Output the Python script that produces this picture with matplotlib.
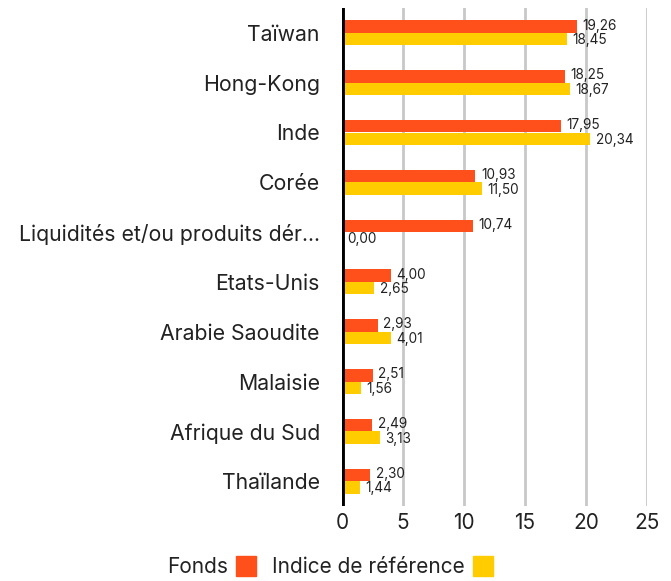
import matplotlib.pyplot as plt
import matplotlib.patches as mpatches
import numpy as np

pays = ["Taïwan", "Hong-Kong", "Inde", "Corée", "Liquidités et/ou produits dér...",
        "Etats-Unis", "Arabie Saoudite", "Malaisie", "Afrique du Sud", "Thaïlande"]
fonds = [19.26, 18.25, 17.95, 10.93, 10.74, 4.00, 2.93, 2.51, 2.49, 2.30]
indice = [18.45, 18.67, 20.34, 11.50, 0.00, 2.65, 4.01, 1.56, 3.13, 1.44]
xticks = [0, 5, 10, 15, 20, 25]

orange = "#FF4F1A"
jaune = "#FFCC00"

plt.rcParams['font.family'] = ['Inter', 'DejaVu Sans']

fig = plt.figure(figsize=(6.71, 5.81), dpi=100)
ax = fig.add_axes([342 / 671, 75 / 581, 305 / 671, 498 / 581])

y = np.arange(len(pays))
h = 0.25
ax.barh(y - h / 2, fonds, height=h, color=orange, zorder=3)
ax.barh(y + h / 2, indice, height=h, color=jaune, zorder=3)

def fmt(v):
    return ("%.2f" % v).replace(".", ",")

for i in range(len(pays)):
    ax.text(fonds[i] + 0.45, y[i] - h / 2 - 0.02, fmt(fonds[i]), va="center", ha="left", fontsize=9.8, color="#222222", zorder=4)
    ax.text(indice[i] + 0.45, y[i] + h / 2 + 0.02, fmt(indice[i]), va="center", ha="left", fontsize=9.8, color="#222222", zorder=4)

ax.set_ylim(len(pays) - 0.5, -0.5)
ax.set_xlim(0, 25)
ax.set_yticks(y)
ax.set_yticklabels(pays, fontsize=15.3, color="#222222")
ax.set_xticks(xticks)
ax.set_xticklabels([str(t) for t in xticks], fontsize=15, color="#222222")
ax.tick_params(axis="y", length=0, pad=16)
ax.tick_params(axis="x", length=0, pad=5)
ax.grid(axis="x", color="#c8c8c8", linewidth=2, zorder=1)
for s in ax.spines.values():
    s.set_visible(False)
ax.axvline(0, color="black", linewidth=3.5, zorder=5)

# legende en bas
fig.text(228 / 671, 14 / 581, "Fonds", ha="right", va="center", fontsize=15, color="#222222")
fig.patches.append(mpatches.Rectangle((236 / 671, 5 / 581), 20 / 671, 20 / 581, color=orange, transform=fig.transFigure))
fig.text(465 / 671, 14 / 581, "Indice de référence", ha="right", va="center", fontsize=15, color="#222222")
fig.patches.append(mpatches.Rectangle((473 / 671, 5 / 581), 20 / 671, 20 / 581, color=jaune, transform=fig.transFigure))

fig.savefig("out.png", dpi=100)
